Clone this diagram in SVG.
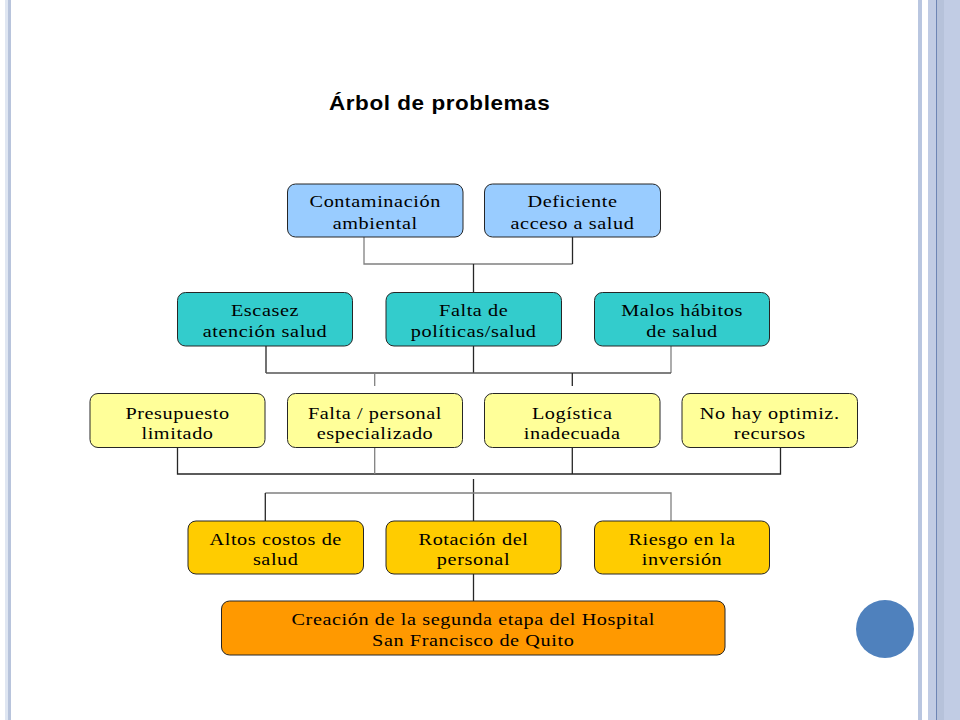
<svg xmlns="http://www.w3.org/2000/svg" width="960" height="720" viewBox="0 0 960 720">
<defs>
<style>
.box{stroke:#262626;stroke-width:1}
.b1{fill:#99ccff}.b2{fill:#33cccc}.b3{fill:#ffff99}.b4{fill:#ffcc00}.b5{fill:#ff9900}
.t{font-family:"Liberation Serif","Times New Roman",serif;font-size:17px;letter-spacing:0.5px;fill:#000;text-anchor:middle}
.cg{stroke:#808080;stroke-width:1.3;fill:none}
.cd{stroke:#262626;stroke-width:1.3;fill:none}
.title{font-family:"Liberation Sans",Arial,sans-serif;font-weight:bold;font-size:20px;letter-spacing:0.5px;fill:#000}
</style>
</defs>
<rect x="0" y="0" width="960" height="720" fill="#ffffff"/>
<g id="frame">
<rect x="5" y="0" width="3" height="720" fill="#dfe6f2"/>
<rect x="8" y="0" width="3" height="720" fill="#b8c4dc"/>
<rect x="918" y="0" width="4" height="720" fill="#b9c6e0"/>
<rect x="928" y="0" width="32" height="720" fill="#c1cce4"/>
<rect x="937" y="0" width="7" height="720" fill="#b6c2da"/>
<rect x="936" y="0" width="1" height="720" fill="#6d85b4"/>
<circle cx="885" cy="629" r="29" fill="#4f81bd"/>
</g>
<text class="title" transform="translate(329 110) scale(1.125 1)">Árbol de problemas</text>
<g id="connectors">
<path class="cg" d="M364 237V264H572.5"/>
<path class="cd" d="M572.5 237V264"/>
<path class="cd" d="M473.5 264V292.5"/>
<path class="cd" d="M266 346V373"/>
<path class="cd" d="M473.5 346V373"/>
<path class="cg" d="M671 346V373"/>
<path class="cd" d="M266 373H671" style="stroke:#555"/>
<path class="cg" d="M374.7 373V386"/>
<path class="cd" d="M572.3 373V386"/>
<path class="cd" d="M177.5 447V474H780.5V447"/>
<path class="cg" d="M374.7 447V474"/>
<path class="cd" d="M572.3 447V474"/>
<path class="cd" d="M473.5 479V521"/>
<path class="cg" d="M265.3 493H671V521"/>
<path class="cd" d="M265.3 493V521"/>
<path class="cd" d="M473.5 574V601"/>
</g>
<g id="n1"><rect class="box b1" x="287.5" y="184" width="175.5" height="53" rx="8"/><text class="t" transform="translate(375.2 207) scale(1.19 1)">Contaminación</text><text class="t" transform="translate(375.2 228.5) scale(1.19 1)">ambiental</text></g>
<g id="n2"><rect class="box b1" x="484.5" y="184" width="176" height="53" rx="8"/><text class="t" transform="translate(572.5 207) scale(1.19 1)">Deficiente</text><text class="t" transform="translate(572.5 228.5) scale(1.19 1)">acceso a salud</text></g>
<g id="n3"><rect class="box b2" x="177.5" y="292.5" width="175" height="53.5" rx="8"/><text class="t" transform="translate(265 316) scale(1.19 1)">Escasez</text><text class="t" transform="translate(265 337) scale(1.19 1)">atención salud</text></g>
<g id="n4"><rect class="box b2" x="386" y="292.5" width="175.5" height="53.5" rx="8"/><text class="t" transform="translate(473.7 316) scale(1.19 1)">Falta de</text><text class="t" transform="translate(473.7 337) scale(1.19 1)">políticas/salud</text></g>
<g id="n5"><rect class="box b2" x="594.5" y="292.5" width="175" height="53.5" rx="8"/><text class="t" transform="translate(682 316) scale(1.19 1)">Malos hábitos</text><text class="t" transform="translate(682 337) scale(1.19 1)">de salud</text></g>
<g id="n6"><rect class="box b3" x="90" y="393.5" width="175" height="54" rx="8"/><text class="t" transform="translate(177.5 418.5) scale(1.19 1)">Presupuesto</text><text class="t" transform="translate(177.5 438.5) scale(1.19 1)">limitado</text></g>
<g id="n7"><rect class="box b3" x="287.5" y="393.5" width="175" height="54" rx="8"/><text class="t" transform="translate(375 418.5) scale(1.19 1)">Falta / personal</text><text class="t" transform="translate(375 438.5) scale(1.19 1)">especializado</text></g>
<g id="n8"><rect class="box b3" x="484.5" y="393.5" width="175.5" height="54" rx="8"/><text class="t" transform="translate(572.2 418.5) scale(1.19 1)">Logística</text><text class="t" transform="translate(572.2 438.5) scale(1.19 1)">inadecuada</text></g>
<g id="n9"><rect class="box b3" x="682" y="393.5" width="175.5" height="54" rx="8"/><text class="t" transform="translate(769.7 418.5) scale(1.19 1)">No hay optimiz.</text><text class="t" transform="translate(769.7 438.5) scale(1.19 1)">recursos</text></g>
<g id="n10"><rect class="box b4" x="188" y="521" width="175.5" height="53" rx="8"/><text class="t" transform="translate(275.7 545) scale(1.19 1)">Altos costos de</text><text class="t" transform="translate(275.7 565) scale(1.19 1)">salud</text></g>
<g id="n11"><rect class="box b4" x="386" y="521" width="175" height="53" rx="8"/><text class="t" transform="translate(473.5 545) scale(1.19 1)">Rotación del</text><text class="t" transform="translate(473.5 565) scale(1.19 1)">personal</text></g>
<g id="n12"><rect class="box b4" x="594.5" y="521" width="175" height="53" rx="8"/><text class="t" transform="translate(682 545) scale(1.19 1)">Riesgo en la</text><text class="t" transform="translate(682 565) scale(1.19 1)">inversión</text></g>
<g id="n13"><rect class="box b5" x="221.5" y="601" width="503.5" height="54" rx="8"/><text class="t" transform="translate(473.2 625) scale(1.19 1)">Creación de la segunda etapa del Hospital</text><text class="t" transform="translate(473.2 646) scale(1.19 1)">San Francisco de Quito</text></g>
</svg>
